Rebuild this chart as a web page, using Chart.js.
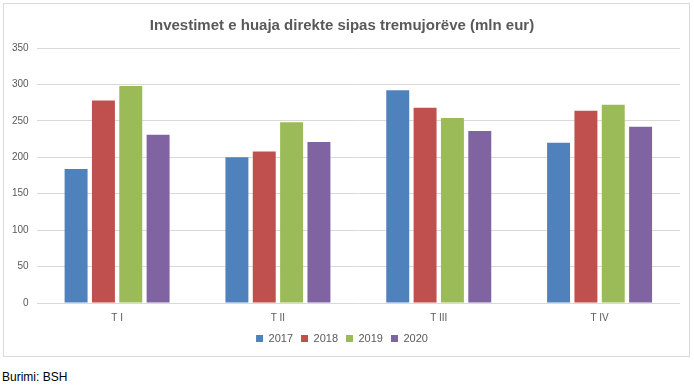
<!DOCTYPE html>
<html>
<head>
<meta charset="utf-8">
<script src="https://cdn.jsdelivr.net/npm/chart.js@4"></script>
<style>
  body { margin: 0; background: #fff; font-family: "Liberation Sans", Arial, sans-serif; }
  #box { position: absolute; left: 3px; top: 3px; width: 687px; height: 354px; border: 1px solid #d9d9d9; box-sizing: border-box; }
  #note { position: absolute; left: 2px; top: 370px; font-size: 12px; color: #000; }
</style>
</head>
<body>
<div id="box"><canvas id="chart"></canvas></div>
<div id="note">Burimi: BSH</div>
<script>
// tremujorët
const quarters = ['T I', 'T II', 'T III', 'T IV'];
const years = ['2017', '2018', '2019', '2020'];
const colors = ['#4F81BD', '#C0504D', '#9BBB59', '#8064A2'];

// vlerat (mln eur), lexuar nga grafiku
const v2017 = [184, 200, 292, 220];
const v2018 = [278, 208, 268, 264];
const v2019 = [298, 248, 254, 272];
const v2020 = [231, 221, 236, 242];
const series = [v2017, v2018, v2019, v2020];

const yTicks = [0, 50, 100, 150, 200, 250, 300, 350];

const datasets = years.map((y, i) => ({
  label: y,
  data: series[i],
  backgroundColor: colors[i],
  barPercentage: 0.84,
  categoryPercentage: 0.68
}));

new Chart(document.getElementById('chart'), {
  type: 'bar',
  data: { labels: quarters, datasets },
  options: {
    responsive: true,
    maintainAspectRatio: false,
    animation: false,
    layout: { padding: { left: 0, right: 9, top: 9, bottom: 2 } },
    plugins: {
      title: {
        display: true,
        text: 'Investimet e huaja direkte sipas tremujorëve (mln eur)',
        color: '#595959',
        font: { family: 'Liberation Sans', size: 15, weight: 'bold' },
        padding: { top: 4, bottom: 13 }
      },
      legend: {
        position: 'bottom',
        labels: {
          boxWidth: 7,
          boxHeight: 7,
          color: '#595959',
          font: { family: 'Liberation Sans', size: 11 },
          padding: 8
        }
      },
      tooltip: { enabled: false }
    },
    scales: {
      x: {
        grid: { display: false },
        border: { display: false },
        ticks: { color: '#595959', font: { family: 'Liberation Sans', size: 10 }, padding: 1 }
      },
      y: {
        min: 0,
        max: 350,
        afterBuildTicks: (axis) => { axis.ticks = yTicks.map(v => ({ value: v })); },
        grid: { color: '#d9d9d9', drawTicks: false },
        border: { display: false },
        ticks: { color: '#595959', font: { family: 'Liberation Sans', size: 10 }, padding: 8 }
      }
    }
  }
});
</script>
</body>
</html>
